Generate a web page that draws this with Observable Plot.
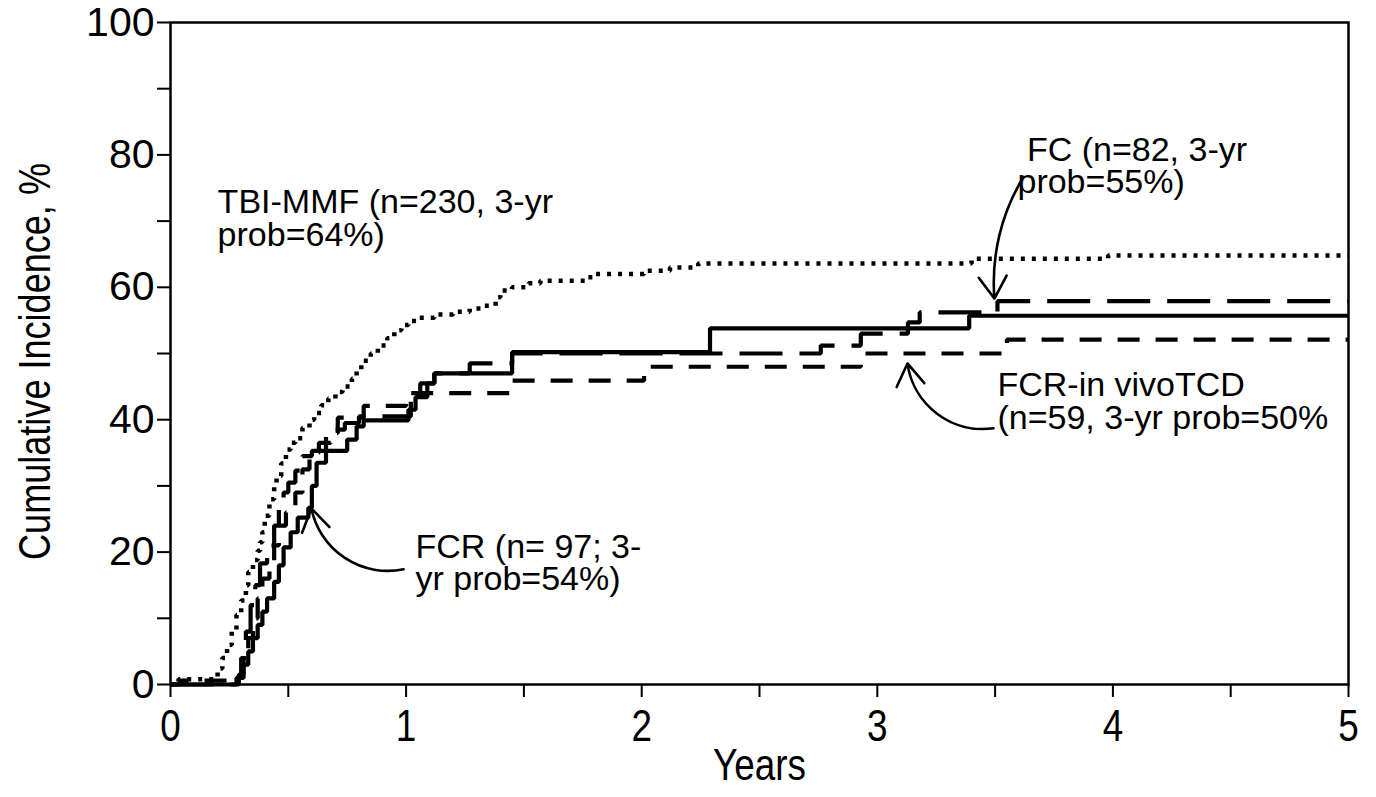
<!DOCTYPE html>
<html><head><meta charset="utf-8">
<script src="https://cdn.jsdelivr.net/npm/d3@7"></script>
<script src="https://cdn.jsdelivr.net/npm/@observablehq/plot@0.6"></script>
<style>
html,body{margin:0;padding:0;background:#fff;}
</style></head><body><div id="chart"></div>
<script>
// ---- data (years, cumulative incidence %) ----
const tbiT = [0, 0.034, 0.2, 0.22, 0.24, 0.26, 0.28, 0.30, 0.32, 0.33, 0.35, 0.37, 0.38, 0.39, 0.40, 0.42, 0.44, 0.45, 0.47, 0.49, 0.51, 0.53, 0.56, 0.59, 0.61, 0.64, 0.67, 0.70, 0.73, 0.77, 0.79, 0.81, 0.85, 0.88, 0.92, 0.95, 0.98, 1.01, 1.05, 1.12, 1.20, 1.27, 1.33, 1.38, 1.40, 1.45, 1.52, 1.57, 1.77, 1.80, 2.01, 2.12, 2.24, 3.40, 3.98, 5];
const tbiV = [0, 0.8, 2.4, 4, 6, 8, 10.5, 12.7, 15, 17, 18.8, 20.2, 21.5, 23, 25.5, 28, 30, 31.5, 33.4, 35.5, 36.5, 37.2, 38.8, 40, 41, 42.2, 43.2, 44.2, 45, 46.2, 47.5, 48.9, 50, 51.2, 52.3, 53.5, 54.3, 54.9, 55.4, 55.9, 56.3, 56.8, 57.2, 58.5, 59.5, 60, 60.6, 61, 61.5, 62, 62.5, 63, 63.6, 64.3, 64.8, 64.8];

const fcT = [0, 0.28, 0.30, 0.32, 0.34, 0.36, 0.38, 0.41, 0.44, 0.46, 0.48, 0.50, 0.53, 0.56, 0.60, 0.66, 0.70, 0.74, 0.80, 1.02, 1.06, 1.12, 1.27, 1.45, 2.76, 2.93, 3.13, 3.18, 3.51, 5];
const fcV = [0, 1, 4, 8, 12, 15, 18.3, 21, 24, 26.5, 29, 30.5, 32.3, 34.5, 35.3, 37.5, 38.5, 39.5, 40.5, 43.4, 45.5, 47, 48.5, 50, 51.2, 53, 54.7, 56.2, 57.9, 57.9];

const fcrT = [0, 0.29, 0.31, 0.33, 0.35, 0.37, 0.39, 0.41, 0.44, 0.46, 0.48, 0.51, 0.54, 0.585, 0.60, 0.62, 0.66, 0.75, 0.79, 0.82, 1.01, 1.04, 1.09, 1.12, 1.45, 2.29, 3.39, 5];
const fcrV = [0, 1, 3, 5, 7, 9, 11, 13, 15.5, 18, 20.7, 23, 25.2, 26.7, 30, 33.5, 35.3, 37, 39, 39.9, 41.5, 43.4, 45.5, 47, 50.2, 53.8, 55.7, 55.7];

const tcdT = [0, 0.04, 0.29, 0.31, 0.33, 0.35, 0.37, 0.39, 0.42, 0.44, 0.46, 0.49, 0.53, 0.56, 0.59, 0.63, 0.68, 0.71, 0.82, 1.00, 1.45, 2.01, 2.93, 3.55, 5];
const tcdV = [0, 0.6, 1.5, 4, 7, 10, 13, 16, 18.5, 21, 24, 26, 29, 32.5, 35, 36.5, 38, 40.3, 42.1, 44, 45.9, 48, 50, 52.1, 52.1];

const xTicks = [0, 0.5, 1, 1.5, 2, 2.5, 3, 3.5, 4, 4.5, 5];
const yTicks = [0, 10, 20, 30, 40, 50, 60, 70, 80, 90, 100];

// annotations: two-line text, left x (years), last-line baseline y (%)
const labelText = ["TBI-MMF (n=230, 3-yr\nprob=64%)", "\u00A0FC (n=82, 3-yr\nprob=55%)", "FCR-in vivoTCD\n(n=59, 3-yr prob=50%", "FCR (n= 97; 3-\nyr prob=54%)"];
const labelX = [0.20, 3.595, 3.51, 1.04];
const labelY = [66.3, 74.17, 38.67, 14.2];

// arrows: start (x1,y1) -> tip (x2,y2), bend angle
const arrowX1 = [3.621, 3.493, 0.989];
const arrowY1 = [76.7, 38.7, 17.4];
const arrowX2 = [3.497, 3.128, 0.598];
const arrowY2 = [58.3, 48.5, 26.6];
const arrowBend = [-18, 45, 45];

// ---- build tables ----
const mk = (T, V) => T.map((t, i) => ({t, v: V[i]}));
const tbi = mk(tbiT, tbiV), fc = mk(fcT, fcV), fcr = mk(fcrT, fcrV), tcd = mk(tcdT, tcdV);
const labels = labelText.map((text, i) => ({text, x: labelX[i], y: labelY[i]}));
const arrows = arrowX1.map((x1, i) => ({x1, y1: arrowY1[i], x2: arrowX2[i], y2: arrowY2[i], bend: arrowBend[i]}));

const lineOpts = {x: "t", y: "v", curve: "step-after", stroke: "#000", strokeWidth: 4.2, strokeLinecap: "butt", strokeLinejoin: "miter"};
const font = "'Liberation Sans', Arial, sans-serif";

const chart = Plot.plot({
  width: 1376, height: 797,
  marginLeft: 170, marginRight: 28, marginTop: 22, marginBottom: 113,
  x: {domain: [0, 5]},
  y: {domain: [0, 100]},
  style: {fontFamily: font, color: "#000", background: "#fff"},
  marks: [
    Plot.axisY({ticks: yTicks, tickFormat: d => d % 20 === 0 ? String(d) : "", tickSize: 13, tickPadding: 3, fontSize: 41, label: null, strokeWidth: 2}),
    Plot.axisX({ticks: xTicks, tickFormat: d => Number.isInteger(d) ? String(d) : "", tickSize: 13, tickPadding: 12, fontSize: 45, label: null, strokeWidth: 2}),
    Plot.frame({stroke: "#000", strokeWidth: 2.5}),
    Plot.line(tbi, {...lineOpts, strokeWidth: 4.5, strokeDasharray: "4,7"}),
    Plot.line(fc, {...lineOpts, strokeDasharray: "43,17"}),
    Plot.line(tcd, {...lineOpts, strokeDasharray: "22,16"}),
    Plot.line(fcr, {...lineOpts}),
    ...arrows.map(a => Plot.arrow([a], {x1: "x1", y1: "y1", x2: "x2", y2: "y2", bend: a.bend, stroke: "#000", strokeWidth: 2.6, headLength: 15, headAngle: 65})),
    Plot.text(labels, {x: "x", y: "y", text: "text", textAnchor: "start", lineAnchor: "bottom", lineHeight: 0.97, fontSize: 34, fill: "#000"}),
    Plot.text(["Years"], {frameAnchor: "bottom", dy: 81, lineAnchor: "middle", textAnchor: "middle", fontSize: 45, fill: "#000"}),
    Plot.text(["Cumulative Incidence, %"], {frameAnchor: "left", dx: -135, dy: 8, rotate: -90, textAnchor: "middle", lineAnchor: "middle", fontSize: 44, fill: "#000"})
  ]
});

// condensed look for x tick labels and axis titles (horizontal squeeze along text direction)
const squeeze = (el) => {
  const t = el.getAttribute("transform") || "";
  el.setAttribute("transform", (t + " scale(0.82,1)").trim());
};
d3.select(chart).selectAll('g[aria-label="x-axis tick label"] text').each(function() { squeeze(this); });
d3.select(chart).selectAll("text").each(function() {
  const s = this.textContent;
  if (s === "Years" || s === "Cumulative Incidence, %") squeeze(this);
});
document.getElementById("chart").appendChild(chart);
</script>
</body></html>
